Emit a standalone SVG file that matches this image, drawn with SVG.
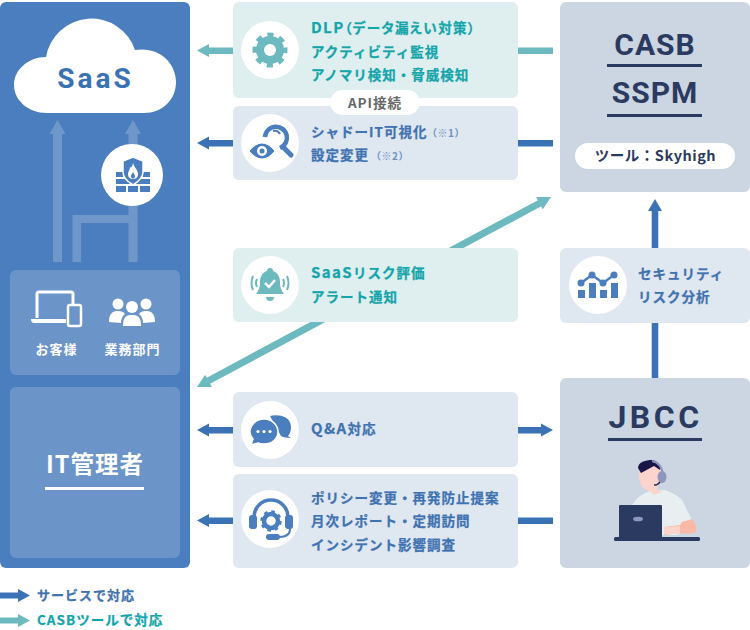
<svg xmlns="http://www.w3.org/2000/svg" width="750" height="630" viewBox="0 0 750 630">
<style>
text{font-family:"Noto Sans CJK JP","Noto Sans",sans-serif;font-weight:700;font-size:13.500px;letter-spacing:1px}
.t{fill:#14a5ab;stroke:#14a5ab;stroke-width:.25px}.b{fill:#3f72b0;stroke:#3f72b0;stroke-width:.25px}.n{font-size:10px;letter-spacing:.5px;fill:#6f92bf;stroke:none}.w{fill:#fff}
.ttl{font-family:Roboto,"Liberation Sans",sans-serif;font-size:30px;fill:#2b3a60;text-anchor:middle}
.cg{fill:#dfeeee}.cb{fill:#dfe7f1}.rp{fill:#cbd6e2}.ci{fill:#fff}
.ti{fill:#6cb9bf}.bi{fill:#4a7ebf}
.af{fill:#3a72b5}.ag{fill:#6cb9bf}.al{fill:#6f97ca}
.lat{font-size:15px;letter-spacing:1.400px}
</style>
<g id="panel-left">
<rect x="0" y="2" width="190" height="566" rx="6" fill="#4a7ebf"/>
</g>
<g id="connectors">
<path class="al" d="M53 262V134H49.500L57.500 120L65.500 134H62V262Z"/>
<path class="al" d="M128.500 262V223H81V262H72.500V215H128.500V134H125L133 120L141 134H137.500V262Z"/>
<path class="ag" d="M197 50.500L209 44V47.500H233V54H209V57Z"/>
<rect class="ag" x="518" y="47.500" width="35" height="6.500"/>
<path class="af" d="M197 143L209 136.500V140H233V146.500H209V149.500Z"/>
<rect class="af" x="518" y="140" width="35" height="6.500"/>
<line x1="208" y1="381" x2="540" y2="203" stroke="#6cb9bf" stroke-width="7"/>
<polygon class="ag" points="197,387 211.800,387 205.200,374.700"/>
<polygon class="ag" points="551,197 542.800,209.300 536.200,197"/>
<path class="af" d="M197 430L209 423.500V427H233V433.500H209V436.500Z"/>
<path class="af" d="M518 427H541V423.500L553 430L541 436.500V433.500H518Z"/>
<path class="af" d="M197 520.500L209 514V517.500H233V524H209V527Z"/>
<rect class="af" x="518" y="517.500" width="35" height="6.500"/>
<path class="af" d="M651.700 378V322H658.300V378Z"/>
<path class="af" d="M651.700 248V211H648L655 199L662 211H658.300V248Z"/>
</g>
<g id="saas">
<path d="M47 113C28 113 14 100 14 85C14 70 28 57 46 57A46 46 0 0 1 135 50C158 46 176 62 176 82C176 100 162 113 144 113Z" fill="#fff"/>
<text x="95.500" y="88" text-anchor="middle" style="font-family:Roboto,'Liberation Sans',sans-serif;font-size:28px;letter-spacing:3px;fill:#3a72b5">SaaS</text>
</g>
<g id="firewall">
<circle cx="132" cy="175" r="31" fill="#fff"/>
<g class="bi">
<rect x="116" y="172" width="10" height="5"/><rect x="140" y="172" width="10" height="5"/>
<rect x="116" y="179" width="16" height="5"/><rect x="134" y="179" width="16" height="5"/>
<rect x="116" y="186" width="10" height="6"/><rect x="128" y="186" width="10" height="6"/><rect x="140" y="186" width="10" height="6"/>
<path d="M133 157L143 161V172C143 178 138 182 133 185C128 182 123 178 123 172V161Z" stroke="#fff" stroke-width="1.500"/>
</g>
<path d="M133 163C134 167 138 170 138 174C138 177 136 179 133 179C130 179 128 177 128 174C128 171 130 170 130 167C131 168 132 168 133 163Z" fill="#fff"/>
<path d="M133 172C134 174 135 175 135 176C135 178 134 178.500 133 178.500C132 178.500 131 178 131 176C131 175 132 174 133 172Z" fill="#4a7ebf"/>
</g>
<g id="customers">
<rect x="10" y="270" width="170" height="105" rx="6" fill="#6b95c9"/>
<path d="M37 318V294Q37 292 39 292H71Q73 292 73 294V304" fill="none" stroke="#fff" stroke-width="3"/>
<path d="M31 319H66V323H34Q31 323 31 319Z" fill="#fff"/>
<rect x="68" y="305" width="13" height="21" rx="2" fill="#6b95c9" stroke="#fff" stroke-width="2.500"/>
<circle cx="118" cy="304" r="5.500" fill="#fff"/><circle cx="146" cy="304" r="5.500" fill="#fff"/>
<path d="M109 322C109 313 113 311 118 311C121 311 124 312 125 314C122 316 121 320 121 323Z" fill="#fff"/>
<path d="M155 322C155 313 151 311 146 311C143 311 140 312 139 314C142 316 143 320 143 323Z" fill="#fff"/>
<circle cx="132" cy="307" r="6" fill="#fff"/>
<path d="M123 326C123 317 126 315 132 315C138 315 141 317 141 326Z" fill="#fff"/>
<text class="w" x="56.500" y="354" text-anchor="middle" style="font-size:13px">お客様</text>
<text class="w" x="132.500" y="354" text-anchor="middle" style="font-size:13px">業務部門</text>
</g>
<g id="it-admin">
<rect x="10" y="387" width="170" height="171" rx="6" fill="#6b95c9"/>
<text class="w" x="95" y="473" text-anchor="middle" style="font-size:23.500px">IT管理者</text>
<rect x="45" y="487" width="99" height="3" fill="#fff"/>
</g>
<g id="card-dlp">
<rect class="cg" x="233" y="2" width="285" height="96" rx="6"/>
<circle class="ci" cx="270" cy="50" r="29"/>
<circle cx="270" cy="50" r="14" class="ti"/>
<circle cx="270" cy="50" r="15" fill="none" stroke="#6cb9bf" stroke-width="5" stroke-dasharray="6 5.780" stroke-dashoffset="3"/>
<circle cx="270" cy="50" r="6" fill="#fff"/>
<text class="t" x="311" y="33" style="font-feature-settings:'palt';letter-spacing:1.400px"><tspan class="lat">DLP</tspan>（データ漏えい対策）</text>
<text class="t" x="311" y="57">アクティビティ監視</text>
<text class="t" x="311" y="80">アノマリ検知・脅威検知</text>
</g>
<g id="card-shadow">
<rect class="cb" x="233" y="106" width="285" height="74" rx="6"/>
<circle class="ci" cx="270" cy="143" r="29"/>
<path d="M265 137A11 11 0 1 1 280 148" fill="none" stroke="#4a7ebf" stroke-width="4.500"/>
<path d="M273 131A6 6 0 0 1 280 134" fill="none" stroke="#4a7ebf" stroke-width="2"/>
<path d="M284 148L291 155" stroke="#4a7ebf" stroke-width="5" stroke-linecap="round"/>
<path d="M249 151Q262 135 275 151Q262 167 249 151Z" class="bi" stroke="#fff" stroke-width="1"/>
<circle cx="262" cy="151" r="5" fill="#fff"/><circle cx="262" cy="151" r="2.500" class="bi"/>
<text class="b" x="311" y="137">シャドーIT可視化</text><text class="n" x="427" y="137">（※1）</text>
<text class="b" x="311" y="160">設定変更</text><text class="n" x="371" y="160">（※2）</text>
</g>
<g id="api-label">
<rect x="330" y="90" width="90" height="25" rx="12.500" fill="#fff"/>
<text x="375" y="108" text-anchor="middle" fill="#666">API接続</text>
</g>
<g id="card-risk">
<rect class="cg" x="233" y="248" width="285" height="74" rx="6"/>
<circle class="ci" cx="270" cy="285" r="29"/>
<path class="ti" d="M270 268C272 268 273 269 273 271C278 273 280 277 280 282C280 287 281 290 284 294H256C259 290 260 287 260 282C260 277 262 273 267 271C267 269 268 268 270 268Z"/>
<path class="ti" d="M266 297H274C274 300 272 301 270 301C268 301 266 300 266 297Z"/>
<path d="M265 283L269 287L275 280" fill="none" stroke="#fff" stroke-width="2.500"/>
<path d="M253 276Q250 283 253 290M257 279Q255 283 257 287M287 276Q290 283 287 290M283 279Q285 283 283 287" fill="none" stroke="#6cb9bf" stroke-width="2"/>
<text class="t" x="311" y="278"><tspan class="lat">SaaS</tspan>リスク評価</text>
<text class="t" x="311" y="302">アラート通知</text>
</g>
<g id="card-qa">
<rect class="cb" x="233" y="392" width="285" height="75" rx="6"/>
<circle class="ci" cx="270" cy="430" r="29"/>
<path class="bi" d="M270 416C278 414 291 416 291 427C291 431 290 434 288 436L291 438C287 438 283 437 281 436Z"/>
<path class="bi" d="M264 419C272 419 278 425 278 432C278 439 272 444 264 444C262 444 260 444 258 443L251 445L253 439C251 437 250 434 250 432C250 425 256 419 264 419Z" stroke="#fff" stroke-width="1.500"/>
<circle cx="258" cy="431.500" r="1.600" fill="#fff"/><circle cx="264" cy="431.500" r="1.600" fill="#fff"/><circle cx="270" cy="431.500" r="1.600" fill="#fff"/>
<text class="b" x="311" y="434"><tspan class="lat">Q&amp;A</tspan>対応</text>
</g>
<g id="card-policy">
<rect class="cb" x="233" y="474" width="285" height="94" rx="6"/>
<circle class="ci" cx="270" cy="519" r="29"/>
<path d="M254 517A17 17 0 0 1 288 517" fill="none" stroke="#4a7ebf" stroke-width="3.500"/>
<rect class="bi" x="249" y="515" width="8" height="14" rx="3"/><rect class="bi" x="285" y="515" width="8" height="14" rx="3"/>
<circle cx="271" cy="521" r="7" fill="none" stroke="#4a7ebf" stroke-width="4.500"/>
<circle cx="271" cy="521" r="9.500" fill="none" stroke="#4a7ebf" stroke-width="2.500" stroke-dasharray="3.500 3.960"/>
<path d="M290 529Q290 537 279 537" fill="none" stroke="#4a7ebf" stroke-width="2"/>
<rect class="bi" x="266" y="534" width="14" height="6" rx="3"/>
<text class="b" x="311" y="503">ポリシー変更・再発防止提案</text>
<text class="b" x="311" y="526">月次レポート・定期訪問</text>
<text class="b" x="311" y="550">インシデント影響調査</text>
</g>
<g id="casb">
<rect class="rp" x="560" y="2" width="190" height="190" rx="6"/>
<text class="ttl" x="655" y="55" style="letter-spacing:1px">CASB</text>
<rect x="607" y="64" width="95" height="3" fill="#2b3a60"/>
<text class="ttl" x="655" y="103" style="letter-spacing:1px">SSPM</text>
<rect x="607" y="114" width="95" height="3" fill="#2b3a60"/>
<rect x="575" y="143" width="160" height="26" rx="13" fill="#fff"/>
<text x="655.500" y="161" text-anchor="middle" fill="#2b3a60" style="font-size:14.500px;letter-spacing:.5px">ツール：Skyhigh</text>
</g>
<g id="card-security">
<rect class="cb" x="560" y="248" width="190" height="75" rx="6"/>
<circle class="ci" cx="598" cy="285" r="29"/>
<g class="bi">
<rect x="578" y="290" width="7" height="8"/><rect x="589" y="283" width="7" height="15"/>
<rect x="600" y="290" width="7" height="8"/><rect x="611" y="283" width="7" height="15"/>
<circle cx="581" cy="283" r="3.500"/><circle cx="592" cy="275" r="3.500"/><circle cx="603" cy="283" r="3.500"/><circle cx="614" cy="275" r="3.500"/>
</g>
<path d="M581 283L592 275L603 283L614 275" fill="none" stroke="#4a7ebf" stroke-width="2.500"/>
<text class="b" x="638" y="279">セキュリティ</text>
<text class="b" x="638" y="302">リスク分析</text>
</g>
<g id="jbcc">
<rect class="rp" x="560" y="378" width="190" height="190" rx="6"/>
<text class="ttl" x="655.500" y="428" style="font-size:32px;letter-spacing:3.500px">JBCC</text>
<rect x="608" y="438" width="94" height="3" fill="#2b3a60"/>
<path d="M632 505Q638 495 650 491L665 490Q678 495 682 500L692 520L678 526V535H660V505Z" fill="#e9eef0"/>
<path d="M652 482L658 490L662 492L654 495L648 489Z" fill="#fdd4cb"/>
<path d="M682 522L692 519Q698 526 696 532Q690 535 680 533L664 535V527L680 525Z" fill="#f9b9a6"/>
<path d="M664 527L680 526V534H664Z" fill="#fdd4cb"/>
<ellipse cx="650" cy="476" rx="11" ry="15" fill="#fdd4cb"/>
<path d="M638 468C638 462 646 460 652 460C658 461 662 466 660 470L654 466L641 473Z" fill="#1a1746"/>
<path d="M652 461Q662 463 663 475" fill="none" stroke="#8d97bd" stroke-width="2"/>
<ellipse cx="662" cy="477" rx="4.500" ry="6" fill="#8d97bd"/>
<path d="M660 482Q658 485 654 485" fill="none" stroke="#2b3a60" stroke-width="1.500"/>
<rect x="619" y="505" width="43" height="33" rx="1" fill="#2b3a60"/>
<ellipse cx="638" cy="519" rx="5" ry="2.300" fill="#8d97bd"/>
<rect x="614" y="537" width="86" height="4" rx="1.500" fill="#2b3a60"/>
</g>
<g id="legend">
<path class="af" d="M0 592.500H18V589L30 595.500L18 602V598.500H0Z"/>
<text class="b" x="37" y="600" style="font-size:13px">サービスで対応</text>
<path class="ag" d="M0 617.500H18V614L30 620.500L18 627V623.500H0Z"/>
<text class="t" x="37" y="625">CASBツールで対応</text>
</g>
</svg>
